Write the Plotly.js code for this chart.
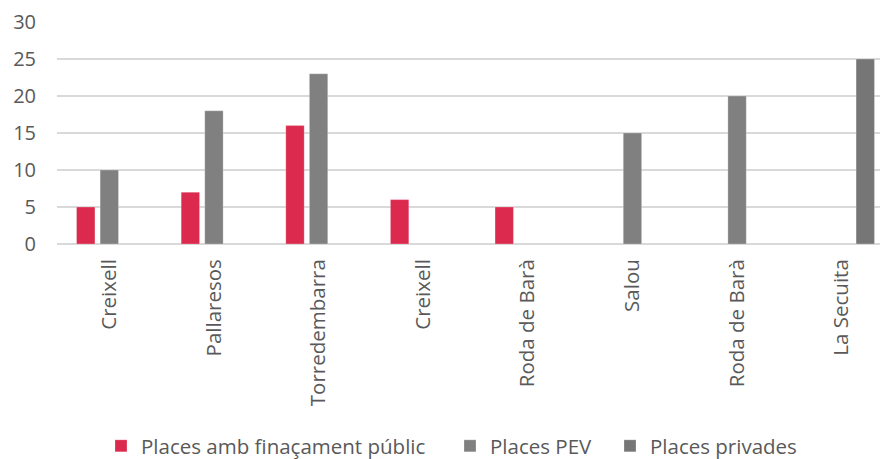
<!DOCTYPE html>
<html><head><meta charset="utf-8">
<script src="https://cdn.plot.ly/plotly-3.0.1.min.js"></script>
<style>html,body{margin:0;padding:0;background:#fff}</style>
</head><body><div id="chart" style="width:880px;height:459px"></div>
<script>
const categories = ["Creixell","Pallaresos","Torredembarra","Creixell","Roda de Barà","Salou","Roda de Barà","La Secuita"];
const publicPlaces = [5, 7, 16, 6, 5, null, null, null];
const pevPlaces = [10, 18, 23, null, null, 15, 20, null];
const privatePlaces = [null, null, null, null, null, null, null, 25];
const seriesNames = ["Places amb finaçament públic","Places PEV","Places privades"];
const yTicks = [0,5,10,15,20,25,30];

const idx = categories.map((c,i)=>i);
const fam = "'Open Sans', 'Liberation Sans', sans-serif";
const txt = "#595959";
const mk = (y,name,color,lg)=>({type:'bar', x:idx, y:y, name:name, legend:lg,
  marker:{color:color, line:{color:'rgba(255,255,255,0.5)', width:0.5}}, hoverinfo:'skip'});
const data = [
  mk(publicPlaces, seriesNames[0], '#DB2A4E', 'legend'),
  mk(pevPlaces, seriesNames[1], '#808080', 'legend2'),
  mk(privatePlaces, seriesNames[2], '#767676', 'legend3')
];
const lg = (px)=>({orientation:'h', xref:'container', yref:'container', x:px/880, xanchor:'left',
  y:1-446/459, yanchor:'middle', font:{family:fam, size:20.5, color:txt}, bgcolor:'rgba(0,0,0,0)'});
const layout = {
  width:880, height:459,
  margin:{l:57, r:0, t:22, b:215},
  paper_bgcolor:'#fff', plot_bgcolor:'#fff',
  barmode:'group', bargap:0.324, bargroupgap:0.22,
  font:{family:fam, size:20, color:txt},
  xaxis:{
    range:[-0.5, 7.366], tickvals:idx, ticktext:categories, tickangle:-90,
    ticks:'outside', ticklen:6, tickcolor:'rgba(0,0,0,0)',
    tickfont:{family:fam, size:20.5, color:txt},
    showgrid:false, zeroline:false, showline:false, fixedrange:true
  },
  yaxis:{
    range:[0,30], tickvals:yTicks, ticks:'outside', ticklen:16, tickcolor:'rgba(0,0,0,0)',
    tickfont:{family:fam, size:20, color:txt},
    showgrid:true, gridcolor:'#d9d9d9', gridwidth:1.3,
    zeroline:true, zerolinecolor:'#d9d9d9', zerolinewidth:1.3, showline:false
  },
  showlegend:true,
  legend:lg(101), legend2:lg(450), legend3:lg(610)
};
Plotly.newPlot('chart', data, layout, {displayModeBar:false, staticPlot:true});
</script></body></html>
